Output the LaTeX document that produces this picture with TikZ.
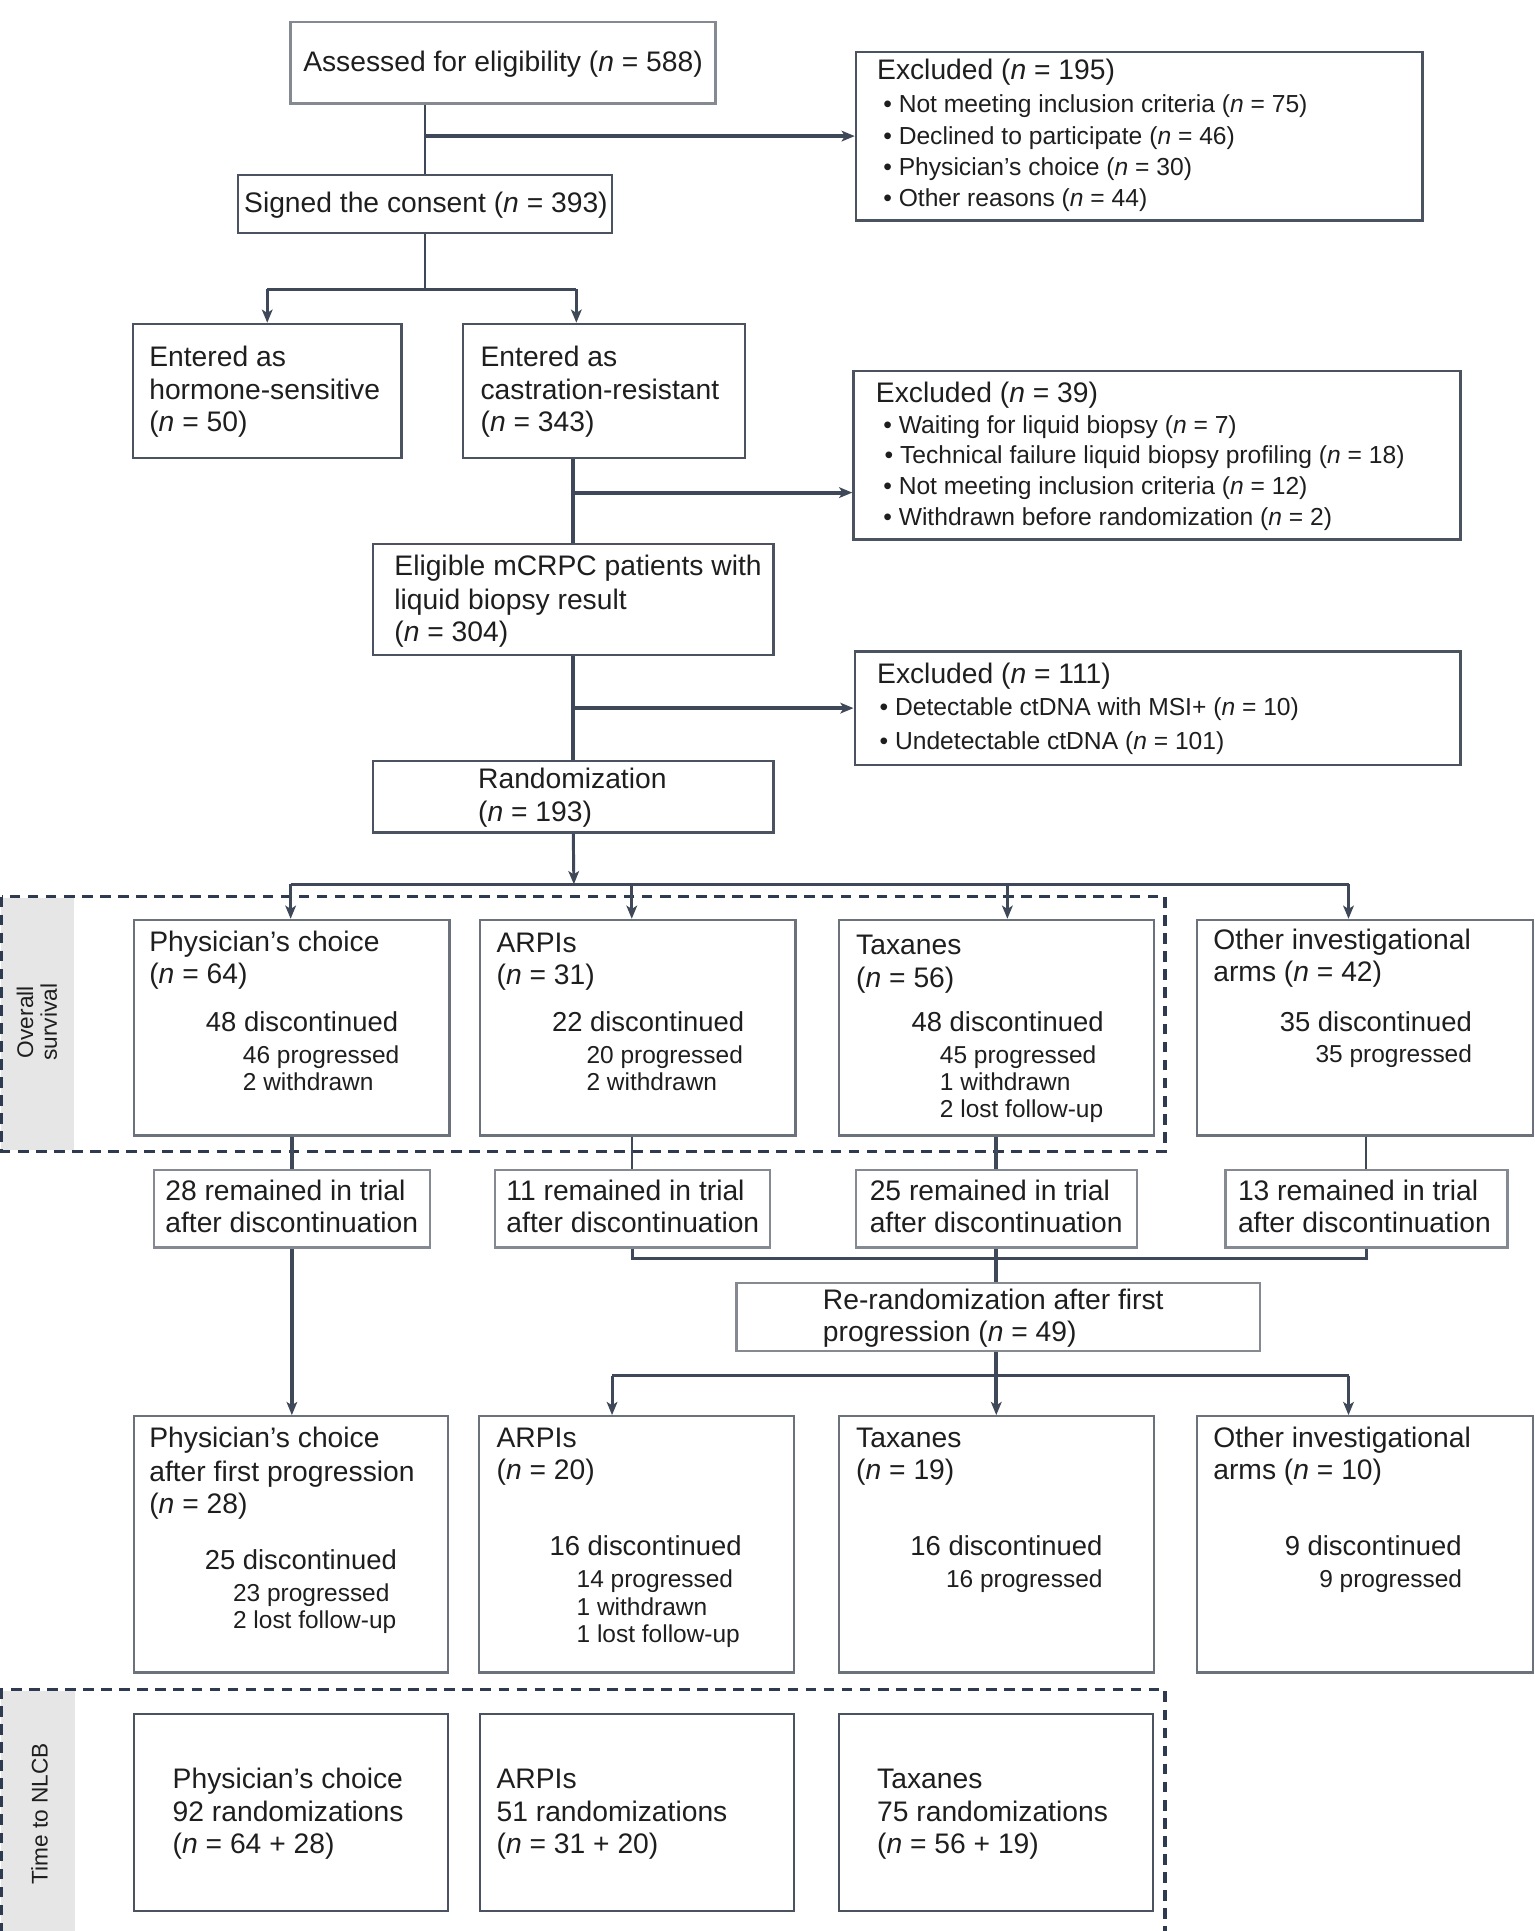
\documentclass[tikz,border=0pt]{standalone}
\usepackage{fontspec}
\setmainfont{Liberation Sans}
\usetikzlibrary{arrows.meta,fit}
\definecolor{linec}{HTML}{3F4859}
\definecolor{boxd}{HTML}{4B5361}
\definecolor{boxm}{HTML}{6C727C}
\definecolor{boxl}{HTML}{858A92}
\definecolor{dashc}{HTML}{2E3A50}
\definecolor{stripe}{HTML}{E6E6E6}
\definecolor{txtc}{HTML}{1E1E1E}
\newcommand\nn{\textit{n}}
\newcommand\fmain{\fontsize{17.2pt}{20pt}\selectfont}
\newcommand\fdisc{\fontsize{16.7pt}{20pt}\selectfont}
\newcommand\fbul{\fontsize{15pt}{18pt}\selectfont}
\newcommand\fsmall{\fontsize{14.9pt}{17pt}\selectfont}
\newcommand\flab{\fontsize{13.8pt}{14.5pt}\selectfont}
\begin{document}
\begin{tikzpicture}[x=0.75pt,y=-0.75pt,
  box/.style={draw=boxd, line width=1.4pt, inner sep=0pt},
  mbox/.style={box, draw=boxm},
  lbox/.style={box, draw=boxl},
  t/.style={anchor=west, inner sep=0pt, text height=0.75em, text depth=0.2em, font=\fmain, text=txtc, yshift=-3pt},
  td/.style={t, font=\fdisc},
  ts/.style={t, font=\fsmall},
  tb/.style={t, font=\fbul},
  thinc/.style={draw=linec, line width=1.3pt},
  medc/.style={draw=linec, line width=1.8pt},
  thickc/.style={draw=linec, line width=2.3pt},
  arr/.style={-{Stealth[length=8pt,width=6.5pt,inset=2pt]}},
  dashbox/.style={draw=dashc, line width=1.9pt, dash pattern=on 6.5pt off 4.5pt},
  vlab/.style={rotate=90, font=\flab, align=center, inner sep=0pt, text=txtc}
]
\useasboundingbox (0,0) rectangle (1246,1568);

% ---------- shaded stripes and dashed frames
\fill[stripe] (1,729) rectangle (60,934);
\fill[stripe] (1,1373) rectangle (61,1568);
\draw[dashbox] (1.5,728) rectangle (946,935);
\draw[dashbox] (1.5,1570) -- (1.5,1372) -- (946,1372) -- (946,1570);
\node[vlab] (oslab) at (30,830) {Overall\\survival};
\node[vlab] (nlcblab) at (32,1473) {Time to NLCB};

% ---------- top part
\node[lbox, fit={(236,18) (581,84)}] (assess) {};
\node[t] (assessT) at (246,50) {Assessed for eligibility (\nn{} = 588)};

\node[box, fit={(695,42) (1155,179)}] (ex1) {};
\node[t] (ex1a) at (712,57) {Excluded (\nn{} = 195)};
\node[tb] (ex1b) at (717,84) {• Not meeting inclusion criteria (\nn{} = 75)};
\node[tb] (ex1c) at (717,110) {• Declined to participate (\nn{} = 46)};
\node[tb] (ex1d) at (717,135) {• Physician’s choice (\nn{} = 30)};
\node[tb] (ex1e) at (717,160) {• Other reasons (\nn{} = 44)};

\node[box, fit={(193,142) (497,189)}] (signed) {};
\node[t] (signedT) at (198,165) {Signed the consent (\nn{} = 393)};

\node[box, fit={(108,263) (326,372)}] (hs) {};
\node[t] (hs1) at (121,290) {Entered as};
\node[t] (hs2) at (121,317) {hormone-sensitive};
\node[t] (hs3) at (121,343) {(\nn{} = 50)};

\node[box, fit={(376,263) (605,372)}] (cr) {};
\node[t] (cr1) at (390,290) {Entered as};
\node[t] (cr2) at (390,317) {castration-resistant};
\node[t] (cr3) at (390,343) {(\nn{} = 343)};

\node[box, fit={(693,301) (1186,438)}] (ex2) {};
\node[t] (ex2a) at (711,319) {Excluded (\nn{} = 39)};
\node[tb] (ex2b) at (717,344) {• Waiting for liquid biopsy (\nn{} = 7)};
\node[tb] (ex2c) at (718,369) {• Technical failure liquid biopsy profiling (\nn{} = 18)};
\node[tb] (ex2d) at (717,394) {• Not meeting inclusion criteria (\nn{} = 12)};
\node[tb] (ex2e) at (717,419) {• Withdrawn before randomization (\nn{} = 2)};

\node[box, fit={(303,442) (628,532)}] (elig) {};
\node[t] (elig1) at (320,460) {Eligible mCRPC patients with};
\node[t] (elig2) at (320,487) {liquid biopsy result};
\node[t] (elig3) at (320,513) {(\nn{} = 304)};

\node[box, fit={(694,529) (1186,621)}] (ex3) {};
\node[t] (ex3a) at (712,547) {Excluded (\nn{} = 111)};
\node[tb] (ex3b) at (714,573) {• Detectable ctDNA with MSI+ (\nn{} = 10)};
\node[tb] (ex3c) at (714,601) {• Undetectable ctDNA (\nn{} = 101)};

\node[box, fit={(303,618) (628,676)}] (rand) {};
\node[t] (rand1) at (388,633) {Randomization};
\node[t] (rand2) at (388,659) {(\nn{} = 193)};

% ---------- first randomization arms
\node[mbox, fit={(109,747) (365,922)}] (pc1) {};
\node[t] (pc1a) at (121,765) {Physician’s choice};
\node[t] (pc1b) at (121,791) {(\nn{} = 64)};
\node[td] (pc1c) at (167,830) {48 discontinued};
\node[ts] (pc1d) at (197,856) {46 progressed};
\node[ts] (pc1e) at (197,878) {2 withdrawn};

\node[mbox, fit={(390,747) (646,922)}] (ar1) {};
\node[t] (ar1a) at (403,766) {ARPIs};
\node[t] (ar1b) at (403,792) {(\nn{} = 31)};
\node[td] (ar1c) at (448,830) {22 discontinued};
\node[ts] (ar1d) at (476,856) {20 progressed};
\node[ts] (ar1e) at (476,878) {2 withdrawn};

\node[mbox, fit={(681,747) (937,922)}] (tx1) {};
\node[t] (tx1a) at (695,767) {Taxanes};
\node[t] (tx1b) at (695,794) {(\nn{} = 56)};
\node[td] (tx1c) at (740,830) {48 discontinued};
\node[ts] (tx1d) at (763,856) {45 progressed};
\node[ts] (tx1e) at (763,878) {1 withdrawn};
\node[ts] (tx1f) at (763,900) {2 lost follow-up};

\node[mbox, fit={(972,747) (1245,922)}] (ot1) {};
\node[t] (ot1a) at (985,763) {Other investigational};
\node[t] (ot1b) at (985,789) {arms (\nn{} = 42)};
\node[td] (ot1c) at (1039,830) {35 discontinued};
\node[ts] (ot1d) at (1068,855) {35 progressed};

% ---------- remained boxes
\node[lbox, fit={(125,950) (349,1013)}] (rem28) {};
\node[t] (rem28a) at (134,967) {28 remained in trial};
\node[t] (rem28b) at (134,993) {after discontinuation};
\node[lbox, fit={(402,950) (625,1013)}] (rem11) {};
\node[t] (rem11a) at (411,967) {11 remained in trial};
\node[t] (rem11b) at (411,993) {after discontinuation};
\node[lbox, fit={(695,950) (923,1013)}] (rem25) {};
\node[t] (rem25a) at (706,967) {25 remained in trial};
\node[t] (rem25b) at (706,993) {after discontinuation};
\node[lbox, fit={(995,950) (1224,1013)}] (rem13) {};
\node[t] (rem13a) at (1005,967) {13 remained in trial};
\node[t] (rem13b) at (1005,993) {after discontinuation};

\node[lbox, fit={(598,1042) (1023,1097)}] (rerand) {};
\node[t] (rerand1) at (668,1056) {Re-randomization after first};
\node[t] (rerand2) at (668,1082) {progression (\nn{} = 49)};

% ---------- second randomization arms
\node[mbox, fit={(109,1150) (364,1358)}] (pc3) {};
\node[t] (pc3a) at (121,1168) {Physician’s choice};
\node[t] (pc3b) at (121,1195) {after first progression};
\node[t] (pc3c) at (121,1221) {(\nn{} = 28)};
\node[td] (pc3d) at (166,1267) {25 discontinued};
\node[ts] (pc3e) at (189,1293) {23 progressed};
\node[ts] (pc3f) at (189,1315) {2 lost follow-up};

\node[mbox, fit={(389,1150) (645,1358)}] (ar3) {};
\node[t] (ar3a) at (403,1168) {ARPIs};
\node[t] (ar3b) at (403,1194) {(\nn{} = 20)};
\node[td] (ar3c) at (446,1255) {16 discontinued};
\node[ts] (ar3d) at (468,1281) {14 progressed};
\node[ts] (ar3e) at (468,1304) {1 withdrawn};
\node[ts] (ar3f) at (468,1326) {1 lost follow-up};

\node[mbox, fit={(681,1150) (937,1358)}] (tx3) {};
\node[t] (tx3a) at (695,1168) {Taxanes};
\node[t] (tx3b) at (695,1194) {(\nn{} = 19)};
\node[td] (tx3c) at (739,1255) {16 discontinued};
\node[ts] (tx3d) at (768,1281) {16 progressed};

\node[mbox, fit={(972,1150) (1245,1358)}] (ot3) {};
\node[t] (ot3a) at (985,1168) {Other investigational};
\node[t] (ot3b) at (985,1194) {arms (\nn{} = 10)};
\node[td] (ot3c) at (1043,1255) {9 discontinued};
\node[ts] (ot3d) at (1071,1281) {9 progressed};

% ---------- time to NLCB boxes
\node[box, fit={(109,1392) (364,1552)}] (pc4) {};
\node[t] (pc4a) at (140,1445) {Physician’s choice};
\node[t] (pc4b) at (140,1471) {92 randomizations};
\node[t] (pc4c) at (140,1497) {(\nn{} = 64 + 28)};
\node[box, fit={(390,1392) (645,1552)}] (ar4) {};
\node[t] (ar4a) at (403,1445) {ARPIs};
\node[t] (ar4b) at (403,1471) {51 randomizations};
\node[t] (ar4c) at (403,1497) {(\nn{} = 31 + 20)};
\node[box, fit={(681,1392) (936,1552)}] (tx4) {};
\node[t] (tx4a) at (712,1445) {Taxanes};
\node[t] (tx4b) at (712,1471) {75 randomizations};
\node[t] (tx4c) at (712,1497) {(\nn{} = 56 + 19)};

% ---------- junction coordinates
\coordinate (j0) at (345,235);
\coordinate (jL) at (217,235);
\coordinate (jR) at (468,235);
\coordinate (j1) at (466,400);
\coordinate (r0) at (466,718);
\coordinate (r1) at (236,718);
\coordinate (r2) at (513,718);
\coordinate (r3) at (818,718);
\coordinate (r4) at (1095,718);
\coordinate (m0) at (809,1022);
\coordinate (q0) at (809,1117);
\coordinate (q1) at (497,1117);
\coordinate (q3) at (1095,1117);

% ---------- connectors
\draw[thinc] (signed.north |- assess.south) -- (signed.north);
\draw[thickc,arr] (signed.north |- ex1.west) -- (ex1.west);
\draw[thinc] (signed.south) -- (signed.south |- j0);
\draw[medc] (jL) -- (jR);
\draw[medc,arr] (jL) -- (hs.north);
\draw[medc,arr] (jR) -- (jR |- cr.north);
\draw[thickc] (elig.north |- cr.south) -- (elig.north);
\draw[thickc,arr] (j1) -- (j1 -| ex2.west);
\draw[thickc] (elig.south) -- (rand.north);
\draw[thickc,arr] (elig.south |- ex3.west) -- (ex3.west);
\draw[medc,arr] (rand.south) -- (r0);
\draw[medc] (r1) -- (r4);
\draw[medc,arr] (r1) -- (r1 |- pc1.north);
\draw[medc,arr] (r2) -- (r2 |- ar1.north);
\draw[medc,arr] (r3) -- (r3 |- tx1.north);
\draw[medc,arr] (r4) -- (r4 |- ot1.north);

\draw[thickc] (rem28.north |- pc1.south) -- (rem28.north);
\draw[thinc] (rem11.north |- ar1.south) -- (rem11.north);
\draw[thickc] (rem25.north |- tx1.south) -- (rem25.north);
\draw[thinc] (rem13.north |- ot1.south) -- (rem13.north);

\draw[thickc,arr] (rem28.south) -- (rem28.south |- pc3.north);
\draw[medc] (rem11.south) -- (rem11.south |- m0) -- (rem13.south |- m0) -- (rem13.south);
\draw[thickc] (rem25.south) -- (rem25.south |- rerand.north);
\draw[thickc] (q0 |- rerand.south) -- (q0);
\draw[medc] (q1) -- (q3);
\draw[medc,arr] (q1) -- (q1 |- ar3.north);
\draw[thickc,arr] (q0) -- (q0 |- tx3.north);
\draw[medc,arr] (q3) -- (q3 |- ot3.north);
\end{tikzpicture}
\end{document}
